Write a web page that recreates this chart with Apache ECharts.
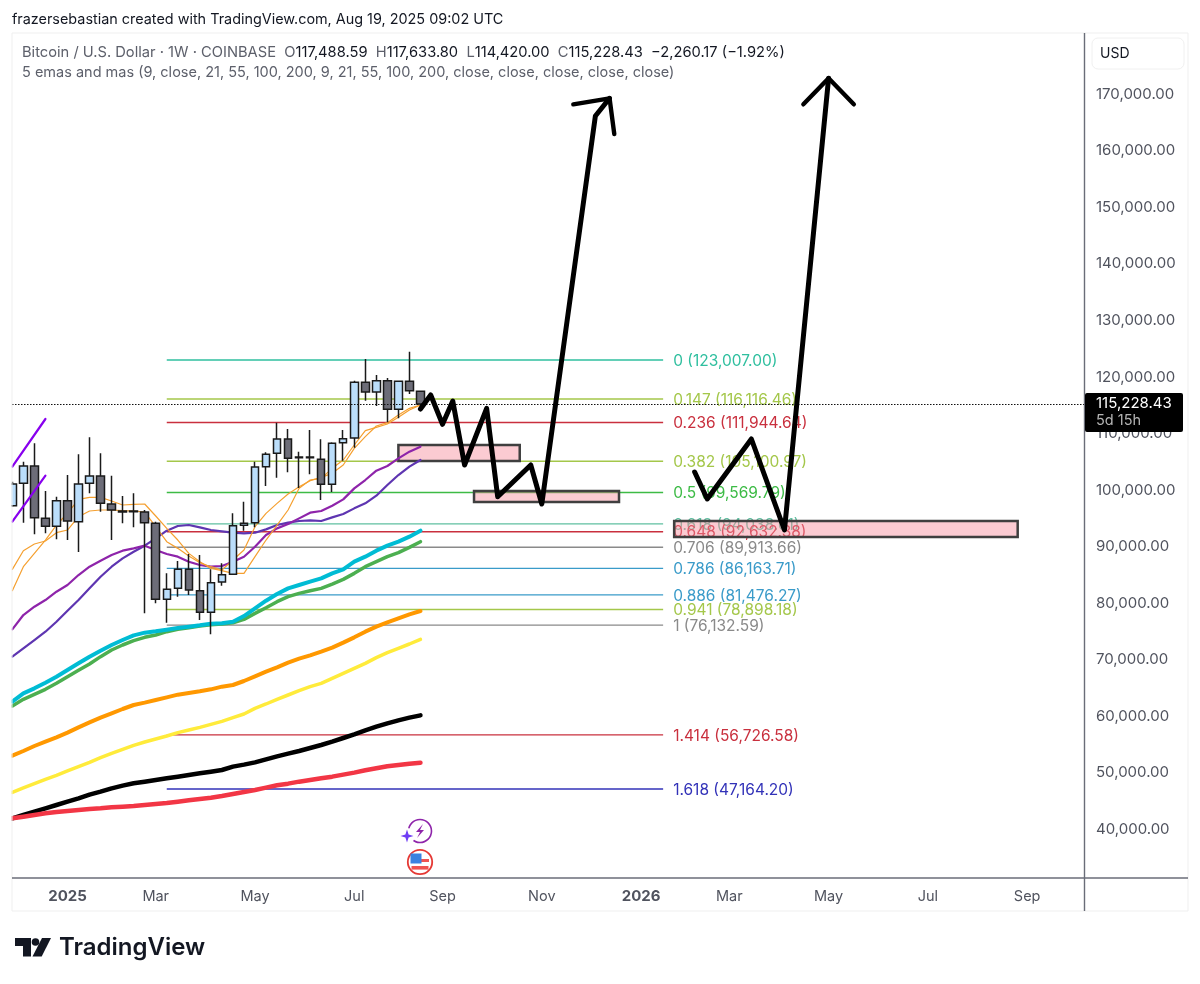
<!DOCTYPE html>
<html>
<head>
<meta charset="utf-8">
<title>BTCUSD</title>
<style>
  html, body { margin: 0; padding: 0; background: #fff; }
  #chart { width: 1200px; height: 984px; }
</style>
<script src="https://cdn.jsdelivr.net/npm/echarts@6/dist/echarts.min.js"></script>
</head>
<body>
<div id="chart"></div>
<script>
// weekly bars
var weeks = ['2024-12-02','2024-12-09','2024-12-16','2024-12-23','2024-12-30','2025-01-06','2025-01-13','2025-01-20','2025-01-27','2025-02-03','2025-02-10','2025-02-17','2025-02-24','2025-03-03','2025-03-10','2025-03-17','2025-03-24','2025-03-31','2025-04-07','2025-04-14','2025-04-21','2025-04-28','2025-05-05','2025-05-12','2025-05-19','2025-05-26','2025-06-02','2025-06-09','2025-06-16','2025-06-23','2025-06-30','2025-07-07','2025-07-14','2025-07-21','2025-07-28','2025-08-04','2025-08-11','2025-08-18'];
var opens = [97250,101199,104264,95010,93596,98134,94421,101199,102496,97545,96307,96307,96130,94126,80690,82633,85992,82221,78390,83753,85108,93773,94244,104146,106503,109038,105855,105855,105443,101022,108390,109215,119058,117348,119352,114284,119234,117488.59];
var closes = [101081,104264,95128,93596,98134,94539,101081,102496,97662,96484,96130,96189,94244,80690,82456,85992,82338,78390,83635,85050,93714,94126,104087,106327,109038,105619,105737,105737,101022,108272,109097,119058,117348,119352,114284,119234,117584,115228.43];
var lows = [97073,94244,92182,92358,91297,91179,89057,99431,96189,91179,94126,93419,78212,79980,76562,81159,81454,77033,74499,83105,85108,92830,93419,100727,102201,103144,100374,102790,98252,99667,105207,107506,115816,114873,111985,112692,116995,114420];
var highs = [101494,105030,108272,99844,98841,102672,106327,109332,106503,102555,98959,99431,96484,94421,85285,87466,88704,88527,85992,87053,95894,97957,105030,106681,111926,110806,106798,110629,108979,108449,110629,119352,123183,120354,119824,119234,124480,117633.8];

// moving averages, one value per week
var ema9 = [85992,89293,90472,91002,92476,92947,95305,96307,96484,96484,96366,96307,96130,93537,90884,89705,88350,87171,86464,85874,87643,89411,93537,95894,97662,99313,100609,101670,102260,102967,104440,107387,109450,111336,111926,113281,114460,115050];
var sma9 = [82220,86464,88821,91179,93831,95894,98370,98723,98723,98075,97368,97486,97545,95423,93242,91179,88821,87348,86169,85757,85285,85285,88232,91179,93831,96484,100315,101788,102083,103851,105325,107977,110511,111101,111690,112869,114166,115050];
var ema21 = [75383,77917,79391,80570,82043,83222,84990,86464,87525,88527,89293,89705,90177,89411,88704,88232,87348,86758,86464,86582,87348,88232,90000,92063,93242,94008,95010,96012,96307,97250,98370,100315,101788,103439,104264,105619,106798,107682];
var sma21 = [70550,72023,73497,74970,76739,78684,80570,82633,84696,86464,87937,89116,90177,91474,92830,93654,93831,93419,92947,92711,92476,92358,92476,93065,93831,94244,94539,94656,94539,95187,95776,96778,97662,99018,100904,102672,104146,105325];
var ema55 = [62601,64075,64959,65960,67021,68200,69378,70557,71618,72620,73503,74329,74800,75036,75330,75625,75861,76096,76391,76450,76739,77741,79096,80452,81631,82633,83222,83811,84401,85285,85992,87348,88232,89293,90177,90884,91769,92830];
var sma55 = [61835,63014,63898,64782,65843,67021,68141,69261,70557,71736,72620,73386,73975,74387,74977,75389,75684,75979,76214,76332,76562,77152,78212,79214,80275,81159,81749,82221,82633,83399,84224,85285,86464,87348,88232,88940,89883,90884];
var ema100 = [53055,53880,54764,55530,56296,57121,58064,58948,59773,60539,61305,62012,62425,62896,63368,63839,64134,64428,64782,65253,65548,66255,67080,67905,68671,69496,70203,70793,71441,72148,73032,73975,74977,75861,76627,77334,78041,78630];
var sma100 = [46572,47339,48105,48871,49578,50344,51110,51876,52701,53467,54174,54882,55471,56001,56532,57121,57592,58064,58594,59125,59773,60421,61423,62189,63014,63780,64546,65253,65843,66727,67610,68494,69378,70380,71264,72030,72796,73621];
var ema200 = [41976,42565,43155,43744,44333,44922,45512,46160,46690,47280,47751,48164,48458,48753,49048,49342,49637,49931,50226,50521,51110,51464,51876,52407,52937,53408,53880,54410,54941,55530,56178,56826,57533,58182,58771,59301,59773,60185];
var sma200 = [41976,42271,42565,42860,43096,43272,43449,43626,43744,43921,44038,44156,44333,44510,44687,44922,45158,45394,45630,45924,46278,46631,46985,47398,47810,48105,48458,48753,49048,49342,49696,50049,50462,50815,51169,51405,51640,51817];

// fibonacci retracement
var fibStart = '2025-03-10';
var fibEnd = '2026-01-19';
var fibValues = [123007,116116.46,111944.64,105100.97,99569.79,94038.61,92632.38,89913.66,86163.71,81476.27,78898.18,76132.59,56726.58,47164.20];
var fibLabels = ['0 (123,007.00)','0.147 (116,116.46)','0.236 (111,944.64)','0.382 (105,100.97)','0.5 (99,569.79)','0.618 (94,038.61)','0.648 (92,632.38)','0.706 (89,913.66)','0.786 (86,163.71)','0.886 (81,476.27)','0.941 (78,898.18)','1 (76,132.59)','1.414 (56,726.58)','1.618 (47,164.20)'];
var fibColors = ['#2fbf9f','#a4c74a','#c9303e','#a4c74a','#3dbb46','#5fbfa0','#c9303e','#8a8a8a','#3a9bc9','#3a9bc9','#a4c74a','#8a8a8a','#c9303e','#3232b8'];

// hand drawn boxes: start, end, top, bottom
var zoneStarts = ['2025-08-04','2025-09-21','2026-01-26'];
var zoneEnds = ['2025-10-20','2025-12-22','2026-09-01'];
var zoneTops = [107979,99846,94541];
var zoneBottoms = [105150,97900,91713];

// hand drawn strokes
var sketchOne = [['2025-08-18',114344],['2025-08-24 12:00',116819],['2025-09-01',111639],['2025-09-07 12:00',115758],['2025-09-15',104443],['2025-09-29',114468],['2025-10-06',98838],['2025-10-27',104443],['2025-11-03',97548],['2025-12-07',166146],['2025-12-16',169276]];
var sketchOneHead = [['2025-11-23',168215],['2025-12-16',169276],['2025-12-19',162964]];
var sketchTwo = [['2026-02-08',103205],['2026-02-16',98432],['2026-03-16',109040],['2026-04-06',92951],['2026-05-04',172811]];
var sketchTwoHead = [['2026-04-18',168215],['2026-05-04',172811],['2026-05-20',168215]];
var trendOne = [['2024-12-02',104142],['2024-12-23',112576]];
var trendTwo = [['2024-12-02',94418],['2024-12-23',102551]];

// axes
var priceTicks = [40000,50000,60000,70000,80000,90000,100000,110000,120000,130000,140000,150000,160000,170000];
var dateTicks = ['2025-01-06','2025-03-03','2025-05-05','2025-07-07','2025-09-01','2025-11-03','2026-01-05','2026-03-02','2026-05-04','2026-07-06','2026-09-07'];
var dateTickLabels = ['2025','Mar','May','Jul','Sep','Nov','2026','Mar','May','Jul','Sep'];
var lastClose = 115228.43;

var FONT = 'Inter, "Noto Sans", sans-serif';

var chart = echarts.init(document.getElementById('chart'));

// the x axis is a value axis in ms: custom label positions crash on a time axis
function toMs(d) {
    return +echarts.time.parse(d);
}

function withWeeks(values) {
    return values.map(function (v, i) { return [toMs(weeks[i]), v]; });
}

function maLine(name, values, color, width) {
    return {
        name: name, type: 'line', data: withWeeks(values), z: 3,
        showSymbol: false, symbol: 'none', silent: true,
        lineStyle: { color: color, width: width, cap: 'round', join: 'round' }
    };
}

function stroke(points, color, width) {
    return {
        type: 'line', z: 6,
        data: points.map(function (p) { return [toMs(p[0]), p[1]]; }),
        showSymbol: false, symbol: 'none', silent: true,
        lineStyle: { color: color, width: width, cap: 'round', join: 'round' }
    };
}

var series = [];

fibValues.forEach(function (v, i) {
    series.push({
        type: 'line', z: 1, silent: true, showSymbol: false, symbol: 'none',
        data: [[toMs(fibStart), v], [toMs(fibEnd), v]],
        lineStyle: { color: fibColors[i], width: 1.4 },
        endLabel: {
            show: true, distance: 10, offset: [0, 1], color: fibColors[i], fontFamily: FONT, fontSize: 15.5,
            formatter: function () { return fibLabels[i]; }
        }
    });
});

series.push({
    type: 'custom', z: 2, silent: true,
    data: zoneStarts.map(function (s, i) { return [toMs(s), toMs(zoneEnds[i]), zoneTops[i], zoneBottoms[i]]; }),
    encode: { x: [0, 1], y: [2, 3] },
    renderItem: function (params, api) {
        var a = api.coord([api.value(0), api.value(2)]);
        var b = api.coord([api.value(1), api.value(3)]);
        return {
            type: 'rect',
            shape: { x: a[0], y: a[1], width: b[0] - a[0], height: b[1] - a[1] },
            style: { fill: 'rgba(247,140,155,0.45)', stroke: '#3f3f3f', lineWidth: 2.5 }
        };
    }
});

series.push(
    maLine('EMA 200', ema200, '#000000', 4.5),
    maLine('MA 200', sma200, '#f23645', 4.5),
    maLine('MA 100', sma100, '#ffeb3b', 3.5),
    maLine('EMA 100', ema100, '#ff9800', 4),
    maLine('MA 55', sma55, '#4caf50', 3.5),
    maLine('EMA 55', ema55, '#00bcd4', 4),
    maLine('MA 21', sma21, '#5e35b1', 2.2),
    maLine('EMA 21', ema21, '#8e24aa', 2.2),
    maLine('MA 9', sma9, '#f5a030', 1.2),
    maLine('EMA 9', ema9, '#f5a030', 1.2)
);

series.push({
    type: 'candlestick', z: 4, silent: true, barWidth: 8,
    data: weeks.map(function (d, i) { return [toMs(d), opens[i], closes[i], lows[i], highs[i]]; }),
    encode: { x: 0, y: [1, 2, 3, 4] },
    itemStyle: { color: '#bbdefb', color0: '#6d6d78', borderColor: '#1a1a1a', borderColor0: '#1a1a1a', borderWidth: 1.5 },
    markLine: {
        silent: true, symbol: 'none', animation: false,
        label: { show: false },
        lineStyle: { color: '#111', type: [1.5, 1.5], width: 1.2 },
        data: [{ yAxis: lastClose }]
    }
});

series.push(
    stroke(trendOne, '#8800ee', 2.2),
    stroke(trendTwo, '#8800ee', 2.2),
    stroke(sketchOne, '#000', 5),
    stroke(sketchOneHead, '#000', 4.4),
    stroke(sketchTwo, '#000', 5),
    stroke(sketchTwoHead, '#000', 4.4)
);

chart.setOption({
    animation: false,
    backgroundColor: '#fff',
    grid: { left: 12, right: 116, top: 33, bottom: 106 },
    xAxis: {
        type: 'value',
        min: toMs('2024-12-01 19:00'),
        max: toMs('2026-10-13 02:00'),
        axisLine: { show: false },
        axisTick: { show: false },
        splitLine: { show: false },
        axisLabel: {
            customValues: dateTicks.map(toMs),
            margin: 11,
            hideOverlap: false,
            showMinLabel: true,
            showMaxLabel: true,
            color: '#50535e',
            fontFamily: FONT,
            fontSize: 14.5,
            formatter: function (value) {
                var text = dateTickLabels[dateTicks.map(toMs).indexOf(value)];
                return /^\d/.test(text) ? '{y|' + text + '}' : text;
            },
            rich: { y: { fontWeight: 'bold', fontFamily: FONT, fontSize: 15, color: '#50535e' } }
        }
    },
    yAxis: {
        type: 'value',
        position: 'right',
        min: 31425,
        max: 180821,
        axisLine: { show: false },
        axisTick: { show: false },
        splitLine: { show: false },
        axisLabel: {
            customValues: priceTicks,
            margin: 12,
            color: '#50535e',
            fontFamily: FONT,
            fontSize: 15,
            padding: [0, 0, 3, 0],
            formatter: function (v) {
                return v.toLocaleString('en-US', { minimumFractionDigits: 2, maximumFractionDigits: 2 });
            }
        }
    },
    series: series
});

// frame, header, footer
var py = chart.convertToPixel({ yAxisIndex: 0 }, lastClose);
var LINE = '#6a6d78';

chart.setOption({
    graphic: [
        // the first bar sits on the pane edge, hide what sticks out
        { type: 'rect', z: 20, shape: { x: 0, y: 33, width: 11.5, height: 878 }, style: { fill: '#fff' } },
        { type: 'rect', z: 21, shape: { x: 12, y: 33, width: 1176, height: 878 }, style: { fill: 'none', stroke: '#efefef', lineWidth: 1 } },
        { type: 'line', z: 50, shape: { x1: 12, y1: 878, x2: 1188, y2: 878 }, style: { stroke: LINE, lineWidth: 1.4 } },
        { type: 'line', z: 50, shape: { x1: 1084.5, y1: 33, x2: 1084.5, y2: 911 }, style: { stroke: LINE, lineWidth: 1.4 } },

        { type: 'text', z: 60, x: 12, y: 20, style: { text: 'frazersebastian created with TradingView.com, Aug 19, 2025 09:02 UTC', fill: '#131722', font: '14.4px ' + FONT, verticalAlign: 'middle' } },
        { type: 'text', z: 60, x: 22, y: 53, style: {
            text: '{g|Bitcoin / U.S. Dollar · 1W · COINBASE  O}{k|117,488.59}{g|  H}{k|117,633.80}{g|  L}{k|114,420.00}{g|  C}{k|115,228.43}{k|  −2,260.17 (−1.92%)}',
            verticalAlign: 'middle',
            rich: {
                g: { fill: '#5d606b', font: '14.7px ' + FONT },
                k: { fill: '#131722', font: '14.7px ' + FONT }
            }
        } },
        { type: 'text', z: 60, x: 22, y: 73, style: { text: '5 emas and mas (9, close, 21, 55, 100, 200, 9, 21, 55, 100, 200, close, close, close, close, close)', fill: '#5d606b', font: '14.5px ' + FONT, verticalAlign: 'middle' } },

        { type: 'rect', z: 60, shape: { x: 1092, y: 38, width: 92, height: 31, r: 6 }, style: { fill: '#fff', stroke: '#f0f0f0', lineWidth: 1 } },
        { type: 'text', z: 61, x: 1100, y: 54, style: { text: 'USD', fill: '#131722', font: '14px ' + FONT, verticalAlign: 'middle' } },

        { type: 'rect', z: 70, shape: { x: 1085, y: py - 11, width: 98, height: 39, r: 2 }, style: { fill: '#000' } },
        { type: 'text', z: 71, x: 1096, y: py - 1, style: { text: '115,228.43', fill: '#fff', font: '15px ' + FONT, verticalAlign: 'middle' } },
        { type: 'text', z: 71, x: 1096, y: py + 17, style: { text: '5d 15h', fill: '#b4b4b4', font: '14.5px ' + FONT, verticalAlign: 'middle' } },

        // event icons under the last bar
        { type: 'circle', z: 40, shape: { cx: 420, cy: 831, r: 11.5 }, style: { fill: '#fff', stroke: '#8e24aa', lineWidth: 1.6 } },
        { type: 'polygon', z: 41, shape: { points: [[423, 824], [416, 832], [420, 832], [417, 838], [424, 830], [420, 830]] }, style: { fill: '#8e24aa' } },
        { type: 'circle', z: 41, shape: { cx: 407, cy: 836, r: 8 }, style: { fill: '#fff' } },
        { type: 'polygon', z: 42, shape: { points: [[407, 829.5], [408.6, 834.4], [413.5, 836], [408.6, 837.6], [407, 842.5], [405.4, 837.6], [400.5, 836], [405.4, 834.4]] }, style: { fill: '#6f3df5' } },

        { type: 'circle', z: 40, shape: { cx: 420, cy: 862, r: 12.2 }, style: { fill: '#fff', stroke: '#e53935', lineWidth: 1.8 } },
        { type: 'rect', z: 41, shape: { x: 420, y: 859, width: 9, height: 3 }, style: { fill: '#ef5350' } },
        { type: 'rect', z: 41, shape: { x: 411.5, y: 866, width: 17, height: 3.6 }, style: { fill: '#ef5350' } },
        { type: 'rect', z: 41, shape: { x: 410.5, y: 853.5, width: 11, height: 10 }, style: { fill: '#3b82e0' } },

        // TradingView logo
        { type: 'polygon', z: 60, shape: { points: [[15, 938], [31, 938], [31, 956.5], [23, 956.5], [23, 946], [15, 946]] }, style: { fill: '#131722' } },
        { type: 'circle', z: 60, shape: { cx: 35.5, cy: 942, r: 3.8 }, style: { fill: '#131722' } },
        { type: 'polygon', z: 60, shape: { points: [[42, 938], [51, 938], [41.7, 956.5], [32.5, 956.5]] }, style: { fill: '#131722' } },
        { type: 'text', z: 60, x: 59, y: 948, style: { text: 'TradingView', fill: '#131722', font: '600 24px ' + FONT, verticalAlign: 'middle' } }
    ]
});
</script>
</body>
</html>
